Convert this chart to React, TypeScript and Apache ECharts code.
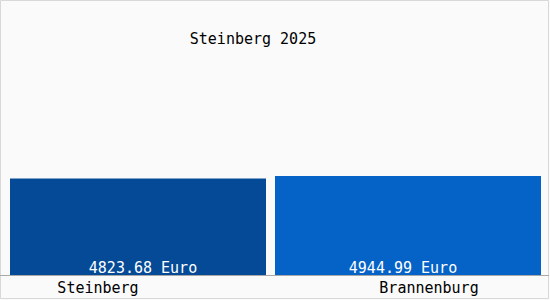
import React, { useEffect, useRef } from "react";
import * as echarts from "echarts";

const categories = ["Steinberg", "Brannenburg"];
const values = [4823.68, 4944.99];
const barColors = ["#044a96", "#0562c6"];
const titleText = "Steinberg 2025";

const FONT = "'DejaVu Sans Mono', monospace";

export default function App() {
  const ref = useRef<HTMLDivElement>(null);
  useEffect(() => {
    if (!ref.current) return;
    const chart = echarts.init(ref.current, null, { renderer: "svg" });
    const labelCfg = {
      show: true,
      position: "insideBottom",
      distance: 0,
      fontFamily: FONT,
      fontSize: 15,
      color: "#fff",
      formatter: (p: any) => Number(p.value).toFixed(2) + " Euro",
    };
    chart.setOption({
      animation: false,
      backgroundColor: "#fafafa",
      title: {
        text: titleText,
        left: 248,
        top: 26,
        textAlign: "center",
        textStyle: { fontFamily: FONT, fontSize: 15, fontWeight: "normal", color: "#000" },
      },
      grid: { left: 3, right: 7, top: 75, bottom: 25 },
      xAxis: [
        {
          type: "category",
          data: [
            { value: categories[0], textStyle: { padding: [0, 80, 0, 0] } },
            { value: categories[1], textStyle: { padding: [0, 0, 0, 42] } },
          ],
          axisLine: { show: false },
          axisTick: { show: false },
          axisLabel: { fontFamily: FONT, fontSize: 15, color: "#000", margin: 5 },
        },
        {
          type: "category",
          data: categories,
          show: false,
        },
      ],
      yAxis: {
        type: "value",
        min: 0,
        max: 10000,
        show: false,
        splitLine: { show: false },
      },
      graphic: [
        {
          type: "rect",
          shape: { x: 0.5, y: 0.5, width: 548, height: 298 },
          style: { fill: "none", stroke: "#d8d8d8", lineWidth: 1 },
          silent: true,
        },
        {
          type: "line",
          shape: { x1: 0, y1: 275.5, x2: 549, y2: 275.5 },
          style: { stroke: "#a8a8a8", lineWidth: 1 },
          silent: true,
          z: 10,
        },
      ],
      series: [
        {
          type: "bar",
          xAxisIndex: 0,
          barWidth: 256,
          data: [
            { value: values[0], itemStyle: { color: barColors[0] }, label: { offset: [5, 0] } },
            "-",
          ],
          label: labelCfg,
        },
        {
          type: "bar",
          xAxisIndex: 1,
          barWidth: 266,
          data: [
            "-",
            { value: values[1], itemStyle: { color: barColors[1] }, label: { offset: [-5, 0] } },
          ],
          label: labelCfg,
        },
      ],
    });
    return () => chart.dispose();
  }, []);
  return <div ref={ref} style={{ width: 550, height: 300, position: "absolute", left: 0, top: 0 }} />;
}
